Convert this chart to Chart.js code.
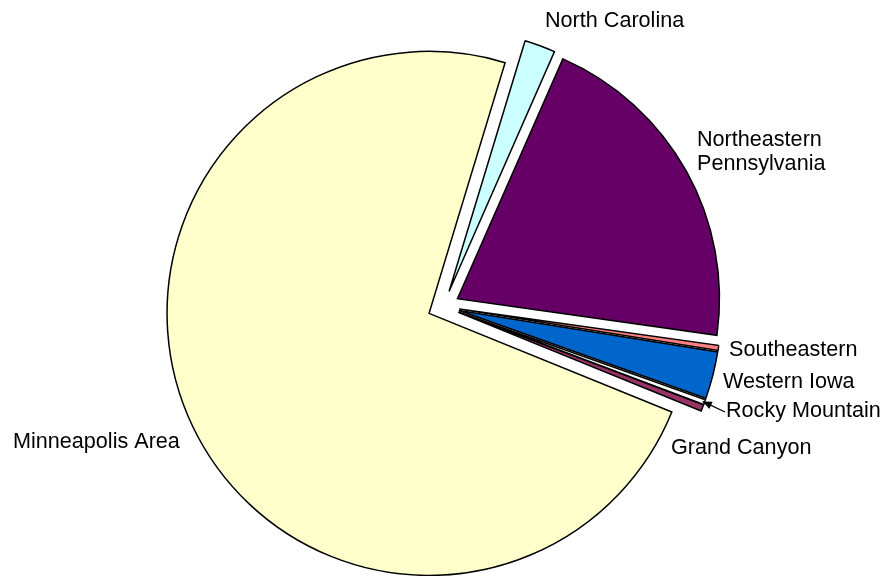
<!DOCTYPE html>
<html>
<head>
<meta charset="utf-8">
<script src="https://cdn.jsdelivr.net/npm/chart.js@4/dist/chart.umd.min.js"></script>
<style>
  html, body { margin: 0; padding: 0; background: #ffffff; }
  #wrap { width: 884px; height: 576px; }
</style>
</head>
<body>
<div id="wrap"><canvas id="pie" width="884" height="576"></canvas></div>
<script>
// Regions, clockwise from the Grand Canyon slice
const regions = ['Grand Canyon', 'Minneapolis Area', 'North Carolina', 'Northeastern Pennsylvania',
                 'Southeastern', 'Western Iowa', 'Rocky Mountain'];
const counts = [4, 734, 19, 206, 3, 29, 3];
const sliceColors = ['#993366', '#FFFFCC', '#CCFFFF', '#660066', '#FF8080', '#0066CC', '#FFFFFF'];

// Label lines and where each label sits (left x, baseline y)
const labelLines = [['Grand Canyon'], ['Minneapolis Area'], ['North Carolina'],
                    ['Northeastern', 'Pennsylvania'], ['Southeastern'], ['Western Iowa'], ['Rocky Mountain']];
const labelSpots = [[671, 454], [13, 448], [545, 27], [697, 146], [729, 356], [723, 388], [726, 417]];

const EXPLODE = 16;      // every slice pulled out from the centre by this many pixels
const FONT = '21.6px "Liberation Sans", Arial, sans-serif';
const LINE_GAP = 24;

// Pull every slice outwards along its bisector (same distance, same radius)
const explodePlugin = {
  id: 'explode',
  afterDatasetUpdate(chart, args) {
    args.meta.data.forEach(arc => {
      const mid = (arc.startAngle + arc.endAngle) / 2;
      arc.x += Math.cos(mid) * EXPLODE;
      arc.y += Math.sin(mid) * EXPLODE;
    });
  }
};

const labelPlugin = {
  id: 'sliceLabels',
  afterDatasetsDraw(chart) {
    const ctx = chart.ctx;
    ctx.save();
    ctx.font = FONT;
    ctx.fillStyle = '#000';
    ctx.textAlign = 'left';
    ctx.textBaseline = 'alphabetic';
    labelLines.forEach((lines, i) => {
      const [x, y] = labelSpots[i];
      lines.forEach((t, k) => ctx.fillText(t, x, y + k * LINE_GAP));
    });

    // leader arrow for the thin Rocky Mountain slice
    const arc = chart.getDatasetMeta(0).data[6];
    const mid = (arc.startAngle + arc.endAngle) / 2;
    const tipX = arc.x + Math.cos(mid) * (arc.outerRadius - 2);
    const tipY = arc.y + Math.sin(mid) * (arc.outerRadius - 2);
    const fromX = 725, fromY = 412;
    const ang = Math.atan2(tipY - fromY, tipX - fromX);
    ctx.strokeStyle = '#000';
    ctx.lineWidth = 1.3;
    ctx.beginPath();
    ctx.moveTo(fromX, fromY);
    ctx.lineTo(tipX, tipY);
    ctx.stroke();
    ctx.beginPath();
    ctx.moveTo(tipX, tipY);
    ctx.lineTo(tipX - Math.cos(ang - 0.4) * 10, tipY - Math.sin(ang - 0.4) * 10);
    ctx.lineTo(tipX - Math.cos(ang + 0.4) * 10, tipY - Math.sin(ang + 0.4) * 10);
    ctx.closePath();
    ctx.fill();
    ctx.restore();
  }
};

new Chart(document.getElementById('pie'), {
  type: 'pie',
  data: {
    labels: regions,
    datasets: [{
      data: counts,
      backgroundColor: sliceColors,
      borderColor: '#000000',
      borderWidth: 1.5,
      borderJoinStyle: 'miter'
    }]
  },
  options: {
    responsive: false,
    animation: false,
    rotation: 110.66,
    radius: 262,
    layout: { padding: { left: 3, right: 0, top: 37, bottom: 0 } },
    plugins: {
      legend: { display: false },
      tooltip: { enabled: false }
    }
  },
  plugins: [explodePlugin, labelPlugin]
});
</script>
</body>
</html>
